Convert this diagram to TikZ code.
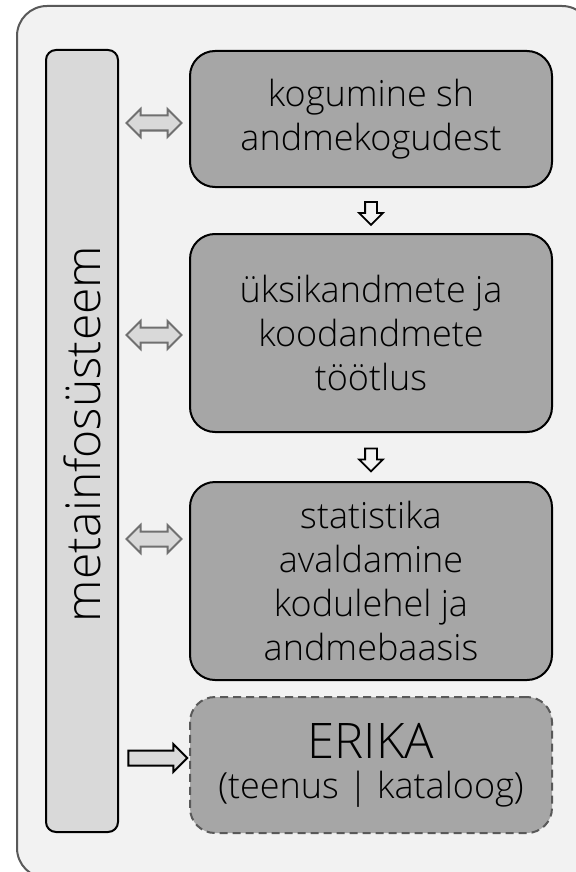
\documentclass[tikz,border=0pt]{standalone}
\usepackage{fontspec}
\setmainfont{Open Sans}[UprightFont=* Light]
\usepackage{tikz}
\usetikzlibrary{shapes.arrows}

\definecolor{bg_gray}{HTML}{F2F2F2}
\definecolor{bar_gray}{HTML}{D9D9D9}
\definecolor{box_gray}{HTML}{A6A6A6}
\definecolor{line_gray}{HTML}{595959}
\definecolor{arrow_gray}{HTML}{707070}

\begin{document}
\begin{tikzpicture}[x=0.5pt, y=-0.5pt,
		box_style/.style={rectangle,rounded corners=12.5pt,draw=black,line width=1pt,fill=box_gray,
			minimum width=181pt,align=center,font=\fontsize{18}{22}\selectfont},
		bar_style/.style={rectangle,rounded corners=5pt,draw=black,line width=1pt,fill=bar_gray,
			minimum width=36pt,minimum height=391pt},
		frame_style/.style={draw=line_gray,line width=1pt,fill=bg_gray,rounded corners=15pt},
		both_arrow_style/.style={double arrow,draw=arrow_gray,fill=bar_gray,line width=1pt,
			inner xsep=0pt,inner ysep=3.25pt,
			minimum width=13pt,double arrow head extend=3.25pt,minimum height=27.5pt},
		down_arrow_style/.style={single arrow,draw=black,fill=bg_gray,line width=0.9pt,rotate=-90,
			inner xsep=0pt,inner ysep=2.5pt,
			minimum width=11pt,single arrow head extend=3pt,minimum height=11.5pt},
		right_arrow_style/.style={single arrow,draw=black,fill=bar_gray,line width=1pt,
			inner xsep=0pt,inner ysep=3.25pt,
			minimum width=13pt,single arrow head extend=3.25pt,minimum height=29.5pt}]

		\useasboundingbox (0,0) rectangle (576,872);
		\clip (0,0) rectangle (576,872);
		\fill[white] (0,0) rectangle (576,872);
		\draw[frame_style] (17,6) rectangle (592,878);

		\node[bar_style] (bar) at (82,441) {};
		\node[rotate=90,font=\fontsize{24}{28}\selectfont] (bar_text) at (82,434) {metainfosüsteem};

		\node[box_style, minimum height=68pt] (b1) at (371,119) {kogumine sh\\andmekogudest};
		\node[box_style, minimum height=99pt] (b2) at (371,333) {üksikandmete ja\\koodandmete\\töötlus};
		\node[box_style, minimum height=99pt] (b3) at (371,581) {statistika\\avaldamine\\kodulehel ja\\andmebaasis};
		\node[box_style, minimum height=68pt, dashed, dash pattern=on 4pt off 2.5pt, draw=line_gray] (b4) at (371,765)
			{{\fontsize{24.5}{26}\selectfont ERIKA}\\[-2pt](teenus | kataloog)};

		\coordinate (y1) at (0,123);
		\coordinate (y2) at (0,335);
		\coordinate (y3) at (0,539);
		\coordinate (y4) at (0,758);

		\path (bar.east |- y1) -- (b1.west |- y1) node[both_arrow_style, midway] (a1) {};
		\path (bar.east |- y2) -- (b2.west |- y2) node[both_arrow_style, midway] (a2) {};
		\path (bar.east |- y3) -- (b3.west |- y3) node[both_arrow_style, midway] (a3) {};
		\path (bar.east |- y4) -- (b4.west |- y4) node[right_arrow_style, midway] (a4) {};

		\path (b1.south) -- (b2.north) node[down_arrow_style, midway] (d1) {};
		\path (b2.south) -- (b3.north) node[down_arrow_style, midway] (d2) {};
\end{tikzpicture}
\end{document}
